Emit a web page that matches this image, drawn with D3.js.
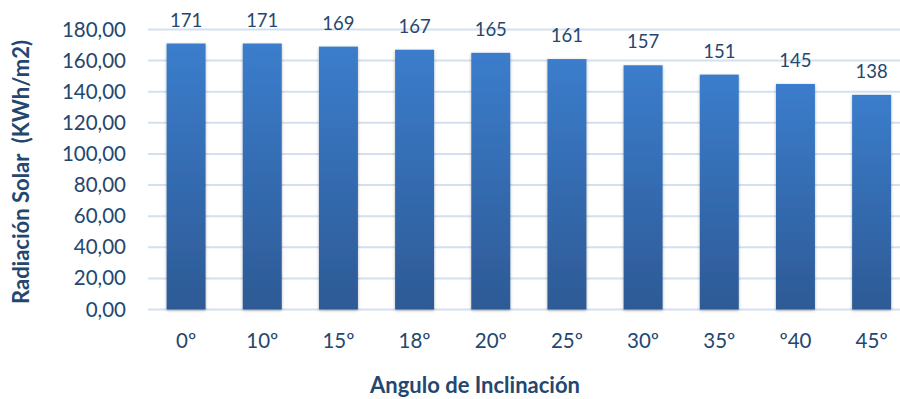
<!DOCTYPE html>
<html>
<head>
<meta charset="utf-8">
<script src="https://cdn.jsdelivr.net/npm/d3@7"></script>
<style>
  html, body { margin: 0; padding: 0; background: #fff; overflow: hidden; }
  svg { display: block; font-family: Lato, "Open Sans", sans-serif; }
</style>
</head>
<body>
<script>
// chart data
const angles = ['0º', '10º', '15º', '18º', '20º', '25º', '30º', '35º', 'º40', '45º'];
const radiation = [171, 171, 169, 167, 165, 161, 157, 151, 145, 138];
const yTicks = [0, 20, 40, 60, 80, 100, 120, 140, 160, 180];

const width = 900;
const height = 399;
const textColor = '#24476f';

const svg = d3.select('body')
  .append('svg')
  .attr('width', width)
  .attr('height', height);

const defs = svg.append('defs');
const grad = defs.append('linearGradient')
  .attr('id', 'barGrad')
  .attr('x1', 0).attr('y1', 0).attr('x2', 0).attr('y2', 1);
grad.append('stop').attr('offset', '0%').attr('stop-color', '#3b7dcc');
grad.append('stop').attr('offset', '100%').attr('stop-color', '#2d5a95');

const shadow = defs.append('filter')
  .attr('id', 'barShadow')
  .attr('x', '-20%').attr('y', '-5%').attr('width', '140%').attr('height', '110%');
shadow.append('feDropShadow')
  .attr('dx', 0).attr('dy', 1)
  .attr('stdDeviation', 1.6)
  .attr('flood-color', '#000')
  .attr('flood-opacity', 0.3);

const x = d3.scaleBand()
  .domain(angles)
  .range([148, 909.7])
  .paddingInner(0.488)
  .paddingOuter(0.244);

const y = d3.scaleLinear()
  .domain([0, 180])
  .range([309.5, 29.5]);

// gridlines
svg.append('g')
  .selectAll('line')
  .data(yTicks)
  .join('line')
  .attr('x1', 148)
  .attr('x2', width)
  .attr('y1', d => y(d))
  .attr('y2', d => y(d))
  .attr('stroke', '#d3e0f0')
  .attr('stroke-width', 2);

// y axis labels
const yAxis = d3.axisLeft(y)
  .tickValues(yTicks)
  .tickSize(0)
  .tickPadding(0)
  .tickFormat(d => d3.format('.2f')(d).replace('.', ','));

svg.append('g')
  .attr('transform', 'translate(126,0)')
  .call(yAxis)
  .call(g => g.select('.domain').remove())
  .selectAll('text')
  .attr('font-family', 'Lato, sans-serif')
  .attr('font-size', 20.5)
  .attr('fill', textColor);

// bars
svg.append('g')
  .selectAll('rect')
  .data(radiation)
  .join('rect')
  .attr('x', (d, i) => x(angles[i]))
  .attr('y', d => y(d))
  .attr('width', x.bandwidth())
  .attr('height', d => y(0) - y(d))
  .attr('fill', 'url(#barGrad)')
  .attr('filter', 'url(#barShadow)');

// value labels
svg.append('g')
  .selectAll('text')
  .data(radiation)
  .join('text')
  .attr('x', (d, i) => x(angles[i]) + x.bandwidth() / 2)
  .attr('y', d => y(d) - 17)
  .attr('text-anchor', 'middle')
  .attr('font-size', 18.5)
  .attr('fill', textColor)
  .text(d => d);

// x axis labels
const xAxis = d3.axisBottom(x).tickSize(0).tickPadding(0);
svg.append('g')
  .attr('transform', 'translate(0,333)')
  .call(xAxis)
  .call(g => g.select('.domain').remove())
  .selectAll('text')
  .attr('font-family', 'Lato, sans-serif')
  .attr('font-size', 20.5)
  .attr('fill', textColor);

// axis titles
svg.append('text')
  .attr('x', 475)
  .attr('y', 393)
  .attr('text-anchor', 'middle')
  .attr('font-size', 22)
  .attr('font-weight', 'bold')
  .attr('fill', textColor)
  .text('Angulo de Inclinación');

svg.append('text')
  .attr('transform', 'translate(29,172) rotate(-90)')
  .attr('text-anchor', 'middle')
  .attr('font-size', 22)
  .attr('font-weight', 'bold')
  .attr('fill', textColor)
  .style('white-space', 'pre')
  .text('Radiación Solar  (KWh/m2)');
</script>
</body>
</html>
